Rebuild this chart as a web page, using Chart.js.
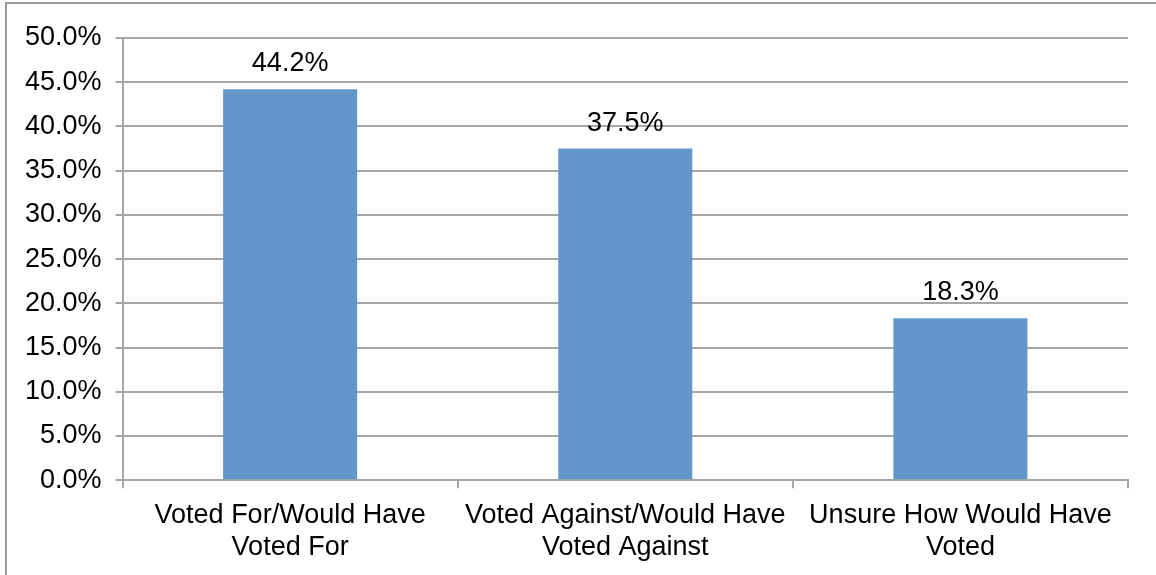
<!DOCTYPE html>
<html>
<head>
<meta charset="utf-8">
<script src="https://cdn.jsdelivr.net/npm/chart.js@4"></script>
<style>
  html, body { margin: 0; padding: 0; background: #fff; overflow: hidden; }
  #frame {
    position: absolute; left: 5px; top: 2px;
    width: 1200px; height: 620px;
    border-left: 2px solid #9a9a9a; border-top: 2px solid #9a9a9a;
  }
  #wrap { position: absolute; left: 0; top: 0; width: 1156px; height: 575px; }
</style>
</head>
<body>
<div id="frame"></div>
<div id="wrap"><canvas id="c" width="1156" height="575"></canvas></div>
<script>
// Survey responses, percent of respondents
const categories = [
  ["Voted For/Would Have", "Voted For"],
  ["Voted Against/Would Have", "Voted Against"],
  ["Unsure How Would Have", "Voted"]
];
const shares = [44.2, 37.5, 18.3];
const yTicks = [0, 5, 10, 15, 20, 25, 30, 35, 40, 45, 50];

const FONT = "'Liberation Sans', Arial, sans-serif";
const GRID = '#a6a6a6';

// Prints each bar's value above it
const valueLabels = {
  id: 'valueLabels',
  afterDatasetsDraw(chart) {
    const ctx = chart.ctx;
    const meta = chart.getDatasetMeta(0);
    ctx.save();
    ctx.font = '27px ' + FONT;
    ctx.fillStyle = '#000';
    ctx.textAlign = 'center';
    ctx.textBaseline = 'alphabetic';
    meta.data.forEach((bar, i) => {
      ctx.fillText(shares[i].toFixed(1) + '%', bar.x, bar.y - 18);
    });
    ctx.restore();
  }
};

new Chart(document.getElementById('c'), {
  type: 'bar',
  data: {
    labels: categories,
    datasets: [{
      data: shares,
      backgroundColor: '#6397c9',
      borderWidth: 0,
      barPercentage: 0.4,
      categoryPercentage: 1.0
    }]
  },
  options: {
    responsive: false,
    animation: false,
    layout: { padding: { left: 11, right: 28, top: 38, bottom: 0 } },
    plugins: { legend: { display: false }, tooltip: { enabled: false }, title: { display: false } },
    scales: {
      y: {
        min: 0, max: 50,
        afterBuildTicks(axis) { axis.ticks = yTicks.map(v => ({ value: v })); },
        ticks: {
          font: { family: FONT, size: 27 },
          color: '#000',
          padding: 14,
          callback: v => Number(v).toFixed(1) + '%'
        },
        grid: { color: GRID, lineWidth: 2, tickLength: 7, drawTicks: true },
        border: { color: GRID, width: 2 }
      },
      x: {
        offset: true,
        ticks: {
          font: { family: FONT, size: 27, lineHeight: 1.2 },
          color: '#000',
          padding: 11,
          maxRotation: 0,
          autoSkip: false
        },
        grid: { offset: true, drawOnChartArea: false, color: GRID, lineWidth: 2, tickLength: 8 },
        border: { color: GRID, width: 2 }
      }
    }
  },
  plugins: [valueLabels]
});
</script>
</body>
</html>
